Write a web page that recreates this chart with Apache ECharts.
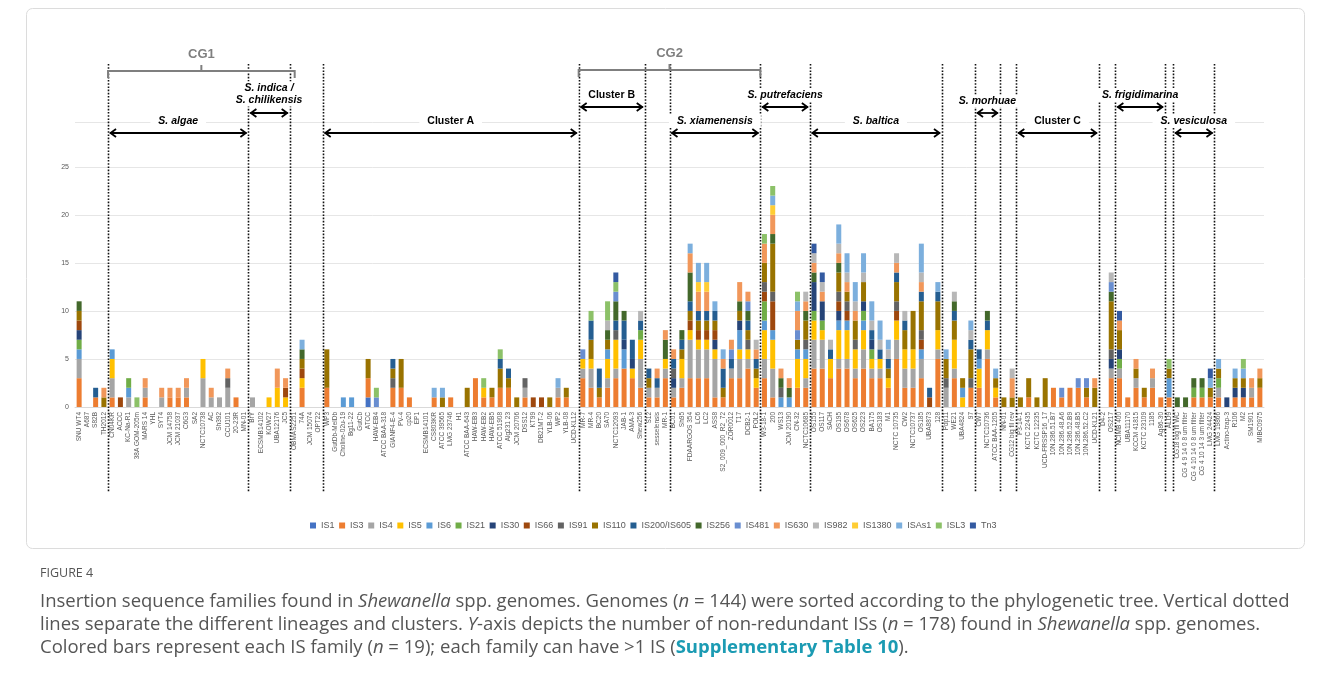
<!DOCTYPE html>
<html>
<head>
<meta charset="utf-8">
<script src="https://cdn.jsdelivr.net/npm/echarts@6/dist/echarts.min.js"></script>
<style>
html, body { margin: 0; padding: 0; background: #fff; }
#chart { width: 1331px; height: 686px; }
</style>
</head>
<body>
<div id="chart"></div>
<script>
// 基因组（按系统发育树排序）
var genomes = [
    'SNU WT4', 'A687', 'S82B', 'TH2012', 'CN04KR', 'ACCC', 'KC-Na-R1', '38A GOM-205m', 'MARS 14', 'YHL', 'SYT4', 'JCM 14758',
    'JCM 21037', 'C6G3', 'SA2', 'NCTC10738', 'AC', 'Sh392', 'CCU101', '20-23R', 'MN-01', 'BrY', 'ECSMB14102', 'KOW27',
    'UBA12176', 'JC5', 'OBMAS2251', '74A', 'JCM 15074', 'OPT22', 'WP3', 'GutDb-MelDb', 'Choline-02u-19', 'Bg11-22', 'GutCb', 'ATCC',
    'HAW-EB4', 'ATCC BAA-318', 'GIANF4-E-4', 'PV-4', 'cp20', 'EP1', 'ECSMB14101', 'CS803KR', 'ATCC 39565', 'LMG 23746', 'H1', 'ATCC BAA-643',
    'HAW-EB3', 'HAW-EB2', 'HAW-EB5', 'ATCC 51908', 'Alg231 23', 'JCM 20706', 'DSS12', 'KT99', 'DB21MT-2', 'YLB-06', 'WP2', 'YLB-08',
    'UCD-KL12', 'MR-7', 'MR-4', 'BC20', 'SA70', 'NCTC12093', 'JAB-1', 'AMA-3', 'Shew256', 'S12', 'sesselensis', 'MR-1',
    'BC01', 'Sh95', 'FDAARGOS 354', 'LC6', 'LC2', 'ASS8', 'S2_009_000_R2_72', 'ZOR0012', 'T17', 'DCB2-1', 'POL2', 'W3-18-1',
    '200', 'WS13', 'JCM 20190', 'CN-32', 'NCTC10685', 'OS155', 'OS117', 'SACH', 'OS195', 'OS678', 'OS625', 'OS223',
    'BA175', 'OS183', 'M1', 'NCTC 10735', 'CW2', 'NCTC10737', 'OS185', 'UBA8873', '128', 'Pdp11', 'WE21', 'UBA4824',
    '97', 'CW7', 'NCTC10736', 'ATCC BAA-1205', 'NN-01', 'CG12 big fil rev', 'P3-14-1', 'KCTC 22435', 'KCTC 12235', 'UCD-FRSSP16_17', '10N.286.51.B7', '10N.286.48.A6',
    '10N.286.52.B9', '10N.286.48.B5', '10N.286.52.C2', 'UCD-KL21', 'D4-2', 'OS217', 'NCIMB 400', 'UBA11170', 'KCCM 41815', 'KCTC 23109', '1185', 'Ag86-30',
    'ALD9', 'CG18 big fil WC', 'CG 4 9 14 0 8 um filter', 'CG 4 10 14 0 8 um filter', 'CG 4 10 14 3 um filter', 'LMG 24424', 'LMG 19866', 'Actino-trap-3', 'R106', 'M2', 'SM1901', 'MIBC0975'
];

var families = ['IS1', 'IS3', 'IS4', 'IS5', 'IS6', 'IS21', 'IS30', 'IS66', 'IS91', 'IS110',
    'IS200/IS605', 'IS256', 'IS481', 'IS630', 'IS982', 'IS1380', 'ISAs1', 'ISL3', 'Tn3'];
var colors = ['#4472C4', '#ED7D31', '#A5A5A5', '#FFC000', '#5B9BD5', '#70AD47', '#264478', '#9E480E', '#636363', '#997300',
    '#255E91', '#43682B', '#698ED0', '#F1975A', '#B7B7B7', '#FFCD33', '#7CAFDD', '#8CC168', '#335AA1'];

// 每个IS家族在各基因组中的数量（每行12个基因组）
var IS1 = [
    0,0,0,0,0,0,0,0,0,0,0,0, 0,0,0,0,0,0,0,0,0,0,0,0, 0,0,0,0,0,0,0,0,0,0,0,1,
    0,0,0,0,0,0,0,0,0,0,0,0, 0,0,0,0,0,0,0,0,0,0,0,0, 0,0,0,0,0,0,0,0,0,0,0,0,
    0,0,0,0,0,0,0,0,0,0,0,0, 0,0,0,0,0,0,0,0,0,0,0,0, 0,0,0,0,0,0,0,0,0,0,0,0,
    0,0,0,0,0,0,0,0,0,0,0,0, 0,0,0,0,0,0,0,0,0,0,0,0, 0,0,0,0,0,0,0,0,0,0,0,0
];
var IS3 = [
    3,0,1,0,1,0,0,0,1,0,0,1, 1,1,0,0,0,0,0,1,0,0,0,0, 0,0,0,2,0,0,2,0,0,0,0,2,
    0,0,2,2,1,0,0,1,0,1,0,0, 3,1,1,2,2,0,1,0,0,0,1,1, 0,3,2,1,2,3,4,3,2,1,1,3,
    1,2,3,3,3,1,1,3,3,4,2,3, 1,0,0,2,2,4,4,3,4,4,3,4, 3,3,2,5,2,2,3,0,5,0,3,0,
    2,2,5,1,0,0,0,1,0,0,2,1, 2,2,1,0,0,3,3,1,2,1,2,1, 1,0,0,1,1,1,1,0,1,1,1,2
];
var IS4 = [
    2,0,0,0,2,0,1,0,1,0,1,0, 0,1,0,3,1,1,2,0,0,1,0,0, 0,0,0,0,0,0,0,0,0,0,0,0,
    0,0,0,0,0,0,0,0,0,0,0,0, 0,0,0,0,0,0,1,0,0,0,1,0, 0,1,2,0,1,1,0,0,3,1,1,1,
    1,1,4,3,3,4,0,1,2,1,0,2, 3,0,0,0,1,3,3,0,1,1,1,2, 1,1,0,2,2,2,2,0,1,2,1,0,
    0,0,1,0,0,0,0,0,0,0,0,0, 0,0,0,0,0,1,1,0,1,0,1,0, 0,0,0,0,0,0,1,0,0,0,1,0
];
var IS5 = [
    0,0,0,0,2,0,0,0,0,0,0,0, 0,0,0,2,0,0,0,0,0,0,0,1, 2,1,0,1,0,0,0,0,0,0,0,0,
    0,0,0,0,0,0,0,0,0,0,0,0, 0,1,0,0,0,0,0,0,0,0,0,0, 0,1,1,0,2,3,0,1,2,0,0,1,
    0,2,1,1,1,1,0,0,1,1,1,3, 3,0,0,3,2,2,1,2,3,3,2,2, 1,1,1,2,2,2,0,0,2,0,3,1,
    0,2,2,1,0,0,0,0,0,0,0,0, 0,0,0,0,0,0,0,0,0,0,0,0, 0,0,0,0,0,0,0,0,0,0,0,0
];
var IS6 = [
    1,0,0,0,1,0,1,0,0,0,0,0, 0,0,0,0,0,0,0,0,0,0,0,0, 0,0,0,0,0,0,0,0,1,1,0,0,
    0,0,0,0,0,0,0,0,0,0,0,0, 0,0,0,0,0,0,0,0,0,0,0,0, 0,0,0,0,1,0,2,0,0,0,0,0,
    0,0,0,0,0,0,0,0,2,0,0,1, 1,1,1,1,1,0,0,0,1,1,0,1, 0,0,0,0,0,0,1,0,0,0,0,1,
    0,1,0,0,0,0,0,0,0,0,0,0, 0,0,0,0,0,0,0,0,0,0,0,0, 2,0,0,0,0,0,0,0,0,0,0,0
];
var IS21 = [
    1,0,0,0,0,0,1,0,0,0,0,0, 0,0,0,0,0,0,0,0,0,0,0,0, 0,0,0,0,0,0,0,0,0,0,0,0,
    0,0,0,0,0,0,0,0,0,0,0,0, 0,0,0,0,0,0,0,0,0,0,0,0, 0,0,0,0,0,0,0,0,1,0,0,0,
    0,0,0,0,0,0,0,0,0,0,0,2, 0,0,0,0,0,1,1,0,0,0,0,1, 1,0,0,0,0,0,0,0,0,0,0,0,
    0,0,0,0,0,0,0,0,0,0,0,0, 0,0,0,0,0,0,1,0,0,0,0,0, 0,0,0,1,1,0,1,0,0,0,0,0
];
var IS30 = [
    1,0,0,0,0,0,0,0,0,0,0,0, 0,0,0,0,0,0,0,0,0,0,0,0, 0,0,0,0,0,0,0,0,0,0,0,0,
    0,0,0,0,0,0,0,0,0,0,0,0, 0,0,0,0,0,0,0,0,0,0,0,0, 0,0,0,0,0,0,1,1,0,0,0,0,
    1,0,0,0,0,1,0,0,1,0,0,0, 0,0,0,0,0,3,2,0,1,0,0,1, 1,0,0,0,0,0,0,0,0,0,0,0,
    0,0,0,0,0,0,0,0,0,0,0,0, 0,0,0,0,0,1,1,0,0,0,0,0, 0,0,0,0,0,0,0,1,1,1,0,0
];
var IS66 = [
    1,0,0,0,0,1,0,0,0,0,0,0, 0,0,0,0,0,0,0,0,0,0,0,0, 0,1,0,1,0,0,0,0,0,0,0,0,
    0,0,0,0,0,0,0,0,0,0,0,0, 0,0,0,0,0,0,0,1,1,0,0,0, 0,0,0,0,0,0,0,0,0,0,0,0,
    0,0,1,1,1,1,0,0,0,0,0,1, 3,0,0,0,0,0,0,0,1,1,0,0, 0,0,0,1,0,0,1,1,0,0,0,0,
    0,0,0,0,0,0,0,0,0,0,0,0, 0,0,0,0,0,0,0,0,0,0,0,0, 0,0,0,0,0,0,0,0,0,0,0,0
];
var IS91 = [
    0,0,0,0,0,0,0,0,0,0,0,0, 0,0,0,0,0,0,1,0,0,0,0,0, 0,0,0,0,0,0,0,0,0,0,0,0,
    0,0,1,0,0,0,0,0,0,0,0,0, 0,0,0,0,0,0,1,0,0,0,0,0, 0,0,0,0,0,1,0,0,0,0,0,0,
    1,0,0,0,0,0,0,0,0,1,0,1, 1,1,0,0,1,0,0,0,1,1,1,0, 0,0,0,1,0,0,1,0,0,1,0,0,
    1,0,0,0,0,0,0,0,0,0,0,0, 0,0,0,0,0,1,0,0,0,0,0,0, 0,0,0,0,0,0,0,0,0,0,0,0
];
var IS110 = [
    1,0,0,1,0,0,0,0,0,0,0,0, 0,0,0,0,0,0,0,0,0,0,0,0, 0,0,0,1,0,0,4,0,0,0,0,2,
    0,0,1,3,0,0,0,0,1,0,0,2, 0,0,1,2,1,1,0,0,0,1,0,1, 0,0,2,1,1,0,0,0,0,1,0,0,
    0,1,1,1,1,1,1,0,1,1,1,2, 5,0,0,1,2,0,0,0,2,1,2,2, 0,0,1,2,2,4,3,0,3,2,2,1,
    3,0,0,1,1,1,1,2,1,3,0,0, 0,0,1,2,0,5,2,0,1,1,0,0, 1,0,0,0,0,1,1,0,1,1,0,1
];
var IS200 = [
    0,0,1,0,0,0,0,0,0,0,0,0, 0,0,0,0,0,0,0,0,0,0,0,0, 0,0,0,0,0,0,0,0,0,0,0,0,
    0,0,1,0,0,0,0,0,0,0,0,0, 0,0,0,1,1,0,0,0,0,0,0,0, 0,0,2,2,0,1,2,2,1,1,1,0,
    1,1,1,1,1,1,2,1,0,1,1,0, 0,0,0,0,0,0,0,1,0,0,0,0, 1,1,1,1,1,0,1,1,1,0,1,0,
    1,1,1,0,0,0,0,0,0,0,0,0, 0,0,0,0,0,0,0,0,0,0,0,0, 0,0,0,0,0,0,0,0,0,0,0,0
];
var IS256 = [
    1,0,0,0,0,0,0,0,0,0,0,0, 0,0,0,0,0,0,0,0,0,0,0,0, 0,0,0,1,0,0,0,0,0,0,0,0,
    0,0,0,0,0,0,0,0,0,0,0,0, 0,0,0,0,0,0,0,0,0,0,0,0, 0,0,0,0,1,2,1,0,0,0,0,2,
    0,1,3,0,0,0,0,0,1,1,0,0, 1,1,1,0,1,1,0,0,1,0,0,0, 0,0,0,0,0,0,0,0,0,0,1,0,
    0,0,1,0,0,0,0,0,0,0,0,0, 0,0,0,0,0,1,0,0,0,0,0,0, 0,1,1,1,1,0,0,0,0,0,0,0
];
var IS481 = [
    0,0,0,0,0,0,0,0,0,0,0,0, 0,0,0,0,0,0,0,0,0,0,0,0, 0,0,0,0,0,0,0,0,0,0,0,0,
    1,0,0,0,0,0,0,0,0,0,0,0, 0,0,0,0,0,0,0,0,0,0,0,0, 0,1,0,0,0,1,0,0,0,0,0,0,
    0,0,0,0,0,0,0,1,0,1,0,0, 0,0,0,1,0,0,0,0,0,0,0,0, 0,0,0,0,0,0,0,0,0,0,0,0,
    0,0,0,0,0,0,0,0,0,0,0,1, 0,1,1,0,0,1,0,0,0,0,0,0, 0,0,0,0,0,0,0,0,0,0,0,0
];
var IS630 = [
    0,0,0,1,0,0,0,0,1,0,1,1, 1,1,0,0,1,0,1,0,0,0,0,0, 2,1,0,0,0,0,0,0,0,0,0,0,
    0,0,0,0,0,0,0,0,0,0,0,0, 0,0,0,0,0,0,0,0,0,0,0,0, 0,0,0,0,0,0,0,0,0,0,1,1,
    1,0,2,2,2,0,1,1,2,1,1,2, 2,1,1,2,1,1,1,0,1,1,1,0, 0,0,0,1,0,0,1,0,0,0,0,0,
    0,0,0,0,0,2,0,0,0,0,0,0, 0,0,0,1,0,0,1,0,1,0,1,0, 0,0,0,0,0,0,0,0,0,0,1,1
];
var IS982 = [
    0,0,0,0,0,0,0,0,0,0,0,0, 0,0,0,0,0,0,0,0,0,0,0,0, 0,0,0,0,0,0,0,0,0,0,0,0,
    0,0,0,0,0,0,0,0,0,0,0,0, 0,0,0,0,0,0,0,0,0,0,0,0, 0,0,0,0,1,0,0,0,1,0,0,0,
    0,0,0,0,0,0,0,0,0,0,1,0, 0,0,0,0,1,1,1,1,1,1,1,1, 1,1,1,1,1,0,1,0,0,0,1,0,
    1,0,0,0,0,1,0,0,0,0,0,0, 0,0,0,0,0,1,0,0,0,0,0,0, 0,0,0,0,0,0,0,0,0,0,0,0
];
var IS1380 = [
    0,0,0,0,0,0,0,0,0,0,0,0, 0,0,0,0,0,0,0,0,0,0,0,0, 0,0,0,0,0,0,0,0,0,0,0,0,
    0,0,0,0,0,0,0,0,0,0,0,0, 0,0,0,0,0,0,0,0,0,0,0,0, 0,0,0,0,0,0,0,0,0,0,0,0,
    0,0,0,1,1,0,0,0,0,0,0,0, 1,0,0,0,0,0,0,0,0,0,0,0, 0,0,0,0,0,0,0,0,0,0,0,0,
    0,0,0,0,0,0,0,0,0,0,0,0, 0,0,0,0,0,0,0,0,0,0,0,0, 0,0,0,0,0,0,0,0,0,0,0,0
];
var ISAs1 = [
    0,0,0,0,0,0,0,0,0,0,0,0, 0,0,0,0,0,0,0,0,0,0,0,0, 0,0,0,1,0,0,0,0,0,0,0,0,
    0,0,0,0,0,0,0,1,1,0,0,0, 0,0,0,0,0,0,0,0,0,0,1,0, 0,0,0,0,0,0,0,0,0,0,0,0,
    0,0,1,2,2,1,1,0,0,0,0,0, 1,0,0,1,0,0,0,0,2,2,2,2, 2,2,1,0,0,0,3,0,1,1,0,0,
    1,0,0,1,0,0,0,0,0,0,0,0, 0,0,0,0,0,0,0,0,0,0,0,0, 0,0,0,0,0,1,1,0,1,1,0,0
];
var ISL3 = [
    0,0,0,0,0,0,0,1,0,0,0,0, 0,0,0,0,0,0,0,0,0,0,0,0, 0,0,0,0,0,0,0,0,0,0,0,0,
    1,0,0,0,0,0,0,0,0,0,0,0, 0,1,0,1,0,0,0,0,0,0,0,0, 0,0,1,0,2,1,0,0,0,0,0,0,
    0,0,0,0,0,0,0,0,0,0,0,1, 1,0,0,1,0,0,0,0,0,0,0,0, 0,0,0,0,0,0,0,0,0,0,0,0,
    0,0,0,0,0,0,0,0,0,0,0,0, 0,0,0,0,0,0,0,0,0,0,0,0, 1,0,0,0,0,0,0,0,0,1,0,0
];
var Tn3 = [
    0,0,0,0,0,0,0,0,0,0,0,0, 0,0,0,0,0,0,0,0,0,0,0,0, 0,0,0,0,0,0,0,0,0,0,0,0,
    0,0,0,0,0,0,0,0,0,0,0,0, 0,0,0,0,0,0,0,0,0,0,0,0, 0,0,0,0,0,1,0,0,0,0,0,0,
    0,0,0,0,0,0,0,0,0,0,0,0, 0,0,0,0,0,1,1,0,0,0,0,0, 0,0,0,0,0,0,0,0,0,0,0,0,
    0,0,0,0,0,0,0,0,0,0,0,0, 0,0,0,0,0,0,1,0,0,0,0,0, 0,0,0,0,0,1,0,0,0,0,0,0
];
var familyData = [IS1, IS3, IS4, IS5, IS6, IS21, IS30, IS66, IS91, IS110,
    IS200, IS256, IS481, IS630, IS982, IS1380, ISAs1, ISL3, Tn3];

// 虚线位置：在这些基因组（从1数）之后
var dividers = [4, 21, 26, 30, 61, 69, 72, 83, 89, 105, 109, 112, 114, 124, 126, 132, 133, 138];
// 分组标注 [文字, 起点分隔, 终点分隔, 箭头y, 斜体]
var groups = [
    ['S. algae', 4, 21, 133, true],
    ['Cluster A', 30, 61, 133, false],
    ['Cluster B', 61, 69, 107, false],
    ['S. xiamenensis', 72, 83, 133, true],
    ['S. putrefaciens', 83, 89, 107, true],
    ['S. baltica', 89, 105, 133, true],
    ['S. morhuae', 109, 112, 113, true],
    ['Cluster C', 114, 124, 133, false],
    ['S. frigidimarina', 126, 132, 107, true],
    ['S. vesiculosa', 133, 138, 133, true]
];

var chart = echarts.init(document.getElementById('chart'));
var font = '"Liberation Sans", Arial, sans-serif';

var series = [];
for (var i = 0; i < families.length; i++) {
    series.push({
        name: families[i],
        type: 'bar',
        stack: 'all',
        barWidth: 5,
        itemStyle: { color: colors[i] },
        emphasis: { disabled: true },
        data: familyData[i]
    });
}

var option = {
    animation: false,
    backgroundColor: '#fff',
    grid: {
        left: 75,
        right: 67,
        top: 122,
        bottom: 279,
        containLabel: false
    },
    legend: {
        data: families,
        top: 521,
        left: 310,
        icon: 'rect',
        itemWidth: 6,
        itemHeight: 6,
        itemGap: 4.6,
        padding: 0,
        textStyle: { fontSize: 9, color: '#595959', fontFamily: font }
    },
    xAxis: {
        type: 'category',
        data: genomes,
        axisTick: { show: false },
        axisLine: { lineStyle: { color: '#d9d9d9' } },
        axisLabel: {
            interval: 0,
            rotate: 90,
            fontSize: 6.5,
            color: '#595959',
            margin: 5,
            fontFamily: font
        }
    },
    yAxis: {
        type: 'value',
        min: 0,
        max: 29.66,
        interval: 5,
        axisLine: { show: false },
        axisTick: { show: false },
        axisLabel: {
            fontSize: 7,
            color: '#595959',
            margin: 6,
            fontFamily: font,
            formatter: function (val) {
                return val % 5 === 0 ? val : '';
            }
        },
        splitLine: { lineStyle: { color: '#e6e6e6', width: 1 } }
    },
    series: series
};
chart.setOption(option);

// 注释图形
function px(i) {
    return chart.convertToPixel({ xAxisIndex: 0 }, i);
}
function gap(k) {
    return (px(k - 1) + px(k)) / 2;
}

var g = [];
// 图框
g.push({
    type: 'rect', shape: { x: 26.5, y: 8.5, width: 1278, height: 540, r: 6 },
    style: { fill: 'none', stroke: '#dcdcdc', lineWidth: 1 }, z: 1
});
dividers.forEach(function (k) {
    var x = Math.round(gap(k)) + 0.5;
    g.push({
        type: 'line', shape: { x1: x, y1: 64, x2: x, y2: 492 },
        style: { stroke: '#111', lineWidth: 1.6, lineDash: [1.6, 1.6] }, z: 100
    });
});

function arrow(x1, x2, y) {
    var st = { stroke: '#000', lineWidth: 1.8, fill: 'none' };
    g.push({ type: 'line', shape: { x1: x1 + 1, y1: y, x2: x2 - 1, y2: y }, style: st, z: 101 });
    g.push({ type: 'polyline', shape: { points: [[x1 + 7, y - 4], [x1 + 1.5, y], [x1 + 7, y + 4]] }, style: st, z: 101 });
    g.push({ type: 'polyline', shape: { points: [[x2 - 7, y - 4], [x2 - 1.5, y], [x2 - 7, y + 4]] }, style: st, z: 101 });
}
function label(text, x, y, italic) {
    g.push({
        type: 'text', x: x, y: y, z: 102,
        style: {
            text: text, align: 'center', verticalAlign: 'middle',
            fontSize: 10.5, fontWeight: 'bold', fontStyle: italic ? 'italic' : 'normal',
            fontFamily: font, fill: '#000',
            backgroundColor: '#fff', padding: [1, 8]
        }
    });
}

groups.forEach(function (gr) {
    var x1 = gap(gr[1]) + 1, x2 = gap(gr[2]) - 1;
    arrow(x1, x2, gr[3]);
    label(gr[0], (x1 + x2) / 2, gr[3] - 12, gr[4]);
});
// S. indica / S. chilikensis
var xi1 = gap(21) + 1, xi2 = gap(26) - 1;
arrow(xi1, xi2, 113);
label('S. indica /', (xi1 + xi2) / 2, 88, true);
label('S. chilikensis', (xi1 + xi2) / 2, 100, true);

// CG1 / CG2 括号
function bracket(text, x1, x2, y) {
    var st = { stroke: '#7f7f7f', lineWidth: 2, fill: 'none' };
    var xm = (x1 + x2) / 2;
    g.push({ type: 'polyline', shape: { points: [[x1, y + 7], [x1, y], [x2, y], [x2, y + 7]] }, style: st, z: 101 });
    g.push({ type: 'line', shape: { x1: xm, y1: y, x2: xm, y2: y - 6 }, style: st, z: 101 });
    g.push({
        type: 'text', x: xm, y: y - 17, z: 102,
        style: { text: text, align: 'center', verticalAlign: 'middle', fontSize: 13, fontWeight: 'bold', fontFamily: font, fill: '#7f7f7f' }
    });
}
bracket('CG1', gap(4), gap(26) + 5, 71);
bracket('CG2', gap(61), gap(83), 70);

// 图注
var capFont = '"Open Sans", "Noto Sans", sans-serif';
var capSize = 18.5;
var rich = {
    i: { fontSize: capSize, fontFamily: capFont, fill: '#555', fontStyle: 'italic' },
    b: { fontSize: capSize, fontFamily: capFont, fill: '#1b9bb3', fontWeight: 'bold' }
};
g.push({
    type: 'text', x: 40, y: 567,
    style: { text: 'FIGURE 4', fontSize: 12.5, fontFamily: capFont, fill: '#555' }
});
var capLines = [
    'Insertion sequence families found in {i|Shewanella} spp. genomes. Genomes ({i|n} = 144) were sorted according to the phylogenetic tree. Vertical dotted',
    'lines separate the different lineages and clusters. {i|Y}-axis depicts the number of non-redundant ISs ({i|n} = 178) found in {i|Shewanella} spp. genomes.',
    'Colored bars represent each IS family ({i|n} = 19); each family can have >1 IS ({b|Supplementary Table 10}).'
];
capLines.forEach(function (t, j) {
    g.push({
        type: 'text', x: 40, y: 592 + j * 23,
        style: { text: t, rich: rich, fontSize: capSize, fontFamily: capFont, fill: '#555' }
    });
});

chart.setOption({ graphic: { elements: g } });
</script>
</body>
</html>
